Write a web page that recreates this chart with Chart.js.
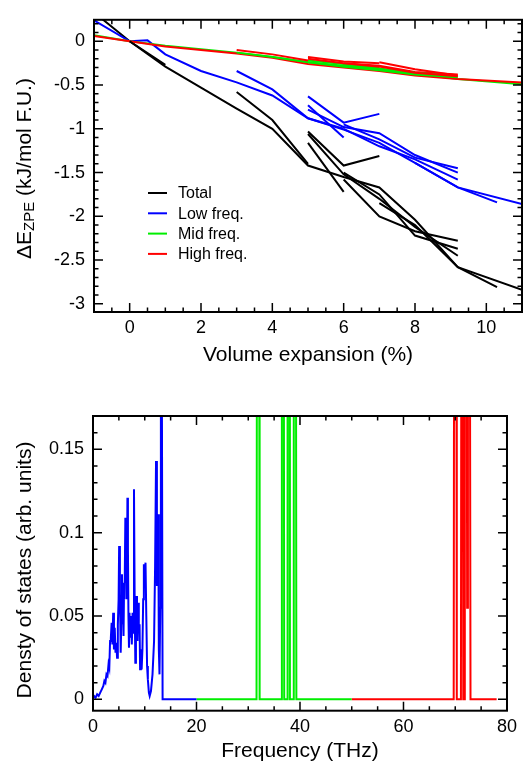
<!DOCTYPE html>
<html>
<head>
<meta charset="utf-8">
<script src="https://cdn.jsdelivr.net/npm/chart.js@4.4.0/dist/chart.umd.min.js"></script>
<style>
  html, body { margin: 0; padding: 0; background: #fff; }
  #wrap { position: relative; width: 523px; height: 764px; }
  canvas { position: absolute; left: 0; }
</style>
</head>
<body>
<div id="wrap">
  <canvas id="zpe" width="523" height="375" style="top:0"></canvas>
  <canvas id="dos" width="523" height="384" style="top:380px"></canvas>
</div>
<script>
// ---- top panel: ZPE change vs volume expansion (one array per curve piece) ----
const seriesNames = ["Total", "Low freq.", "Mid freq.", "High freq."];
const seriesColors = ["#000000", "#0000ff", "#00ee00", "#ff0000"];

const totalX = [
  [-1, 0, 1],
  [0, 1, 2, 3, 4, 5, 6, 7, 8, 9.2, 11],
  [3, 4, 5],
  [5, 6, 7],
  [5, 6],
  [5, 6, 7, 8, 9.2],
  [6, 7, 8, 9.2],
  [6, 7, 8, 9.2],
  [7, 8, 9.2, 10.3]
];
const totalY = [
  [0.33, 0, -0.27],
  [0, -0.29, -0.53, -0.77, -1.0, -1.42, -1.55, -1.67, -2.04, -2.58, -2.84],
  [-0.58, -0.9, -1.4],
  [-1.03, -1.42, -1.31],
  [-1.16, -1.72],
  [-1.06, -1.52, -1.8, -2.12, -2.45],
  [-1.58, -2.0, -2.17, -2.28],
  [-1.5, -1.75, -2.22, -2.37],
  [-1.85, -2.1, -2.58, -2.81]
];

const lowX = [
  [-1, 0, 0.5, 1, 2, 3, 4, 5, 6, 7, 8, 9.2, 11],
  [3, 4, 5, 6],
  [5, 6, 7],
  [5, 6],
  [5, 6, 7, 8, 9.2],
  [6, 7, 8, 9.2],
  [6, 7, 8, 9.2],
  [8, 9.2, 10.3]
];
const lowY = [
  [0.24, 0, 0.01, -0.15, -0.34, -0.47, -0.62, -0.88, -1.01, -1.16, -1.39, -1.67, -1.86],
  [-0.34, -0.55, -0.88, -1.0],
  [-0.63, -0.93, -0.83],
  [-0.73, -1.1],
  [-0.78, -0.98, -1.05, -1.3, -1.5],
  [-0.95, -1.12, -1.33, -1.45],
  [-1.0, -1.2, -1.35, -1.58],
  [-1.39, -1.67, -1.84]
];

const midX = [
  [-1, 0, 1, 2, 3, 4, 5, 6, 7, 8, 9.2, 11],
  [3, 4, 5],
  [5, 6, 7],
  [5, 6, 7, 8, 9.2],
  [6, 7, 8, 9.2]
];
const midY = [
  [0.07, 0, -0.05, -0.09, -0.13, -0.18, -0.24, -0.28, -0.32, -0.37, -0.43, -0.49],
  [-0.13, -0.18, -0.24],
  [-0.22, -0.26, -0.3],
  [-0.24, -0.29, -0.33, -0.38, -0.41],
  [-0.27, -0.31, -0.36, -0.4]
];

const highX = [
  [-1, 0, 1, 2, 3, 4, 5, 6, 7, 8, 9.2, 11],
  [3, 4, 5],
  [5, 6, 7],
  [5, 6, 7, 8, 9.2],
  [6, 7, 8, 9.2],
  [7, 8, 9.2]
];
const highY = [
  [0.06, 0, -0.06, -0.1, -0.14, -0.19, -0.26, -0.3, -0.34, -0.39, -0.43, -0.47],
  [-0.1, -0.15, -0.22],
  [-0.18, -0.23, -0.25],
  [-0.2, -0.25, -0.28, -0.35, -0.38],
  [-0.25, -0.29, -0.36, -0.4],
  [-0.24, -0.32, -0.39]
];

const zpeXTicks = [0, 2, 4, 6, 8, 10];
const zpeYTicks = [0, -0.5, -1, -1.5, -2, -2.5, -3];

// ---- bottom panel: phonon density of states ----
const dosLowX = [0, 0.2, 0.5, 0.8, 1.1, 1.4, 1.7, 2.0, 2.2, 2.4, 2.6, 2.8, 3.0, 3.15, 3.3, 3.45, 3.6, 3.75, 3.9,
  4.05, 4.2, 4.35, 4.5, 4.65, 4.8, 4.95, 5.05, 5.2, 5.35, 5.5, 5.6, 5.7, 5.8, 5.9, 6.0, 6.1, 6.25, 6.35,
  6.45, 6.55, 6.65, 6.75, 6.85, 6.95, 7.05, 7.2, 7.35, 7.5, 7.65, 7.8, 7.92, 8.05, 8.18, 8.3, 8.4, 8.5,
  8.6, 8.75, 8.85, 9.0, 9.1, 9.25, 9.4, 9.55, 9.7, 9.83, 10.0, 10.15, 10.3, 10.45, 10.6, 10.8, 10.95,
  11.2, 11.5, 11.8, 12.0, 12.18, 12.35, 12.5, 12.62, 12.72, 12.85, 13.0, 13.12, 13.3, 13.45, 20];
const dosLowY = [0, 0.002, 0.001, 0.003, 0.002, 0.004, 0.006, 0.008, 0.011, 0.01, 0.015, 0.014, 0.021, 0.019,
  0.035, 0.037, 0.046, 0.033, 0.052, 0.03, 0.043, 0.028, 0.034, 0.025, 0.045, 0.06, 0.092, 0.065, 0.028,
  0.05, 0.075, 0.045, 0.07, 0.038, 0.067, 0.06, 0.109, 0.07, 0.105, 0.06, 0.121, 0.09, 0.05, 0.031, 0.052,
  0.037, 0.05, 0.033, 0.052, 0.04, 0.126, 0.06, 0.022, 0.04, 0.062, 0.045, 0.035, 0.058, 0.04, 0.045,
  0.018, 0.03, 0.018, 0.03, 0.06, 0.081, 0.075, 0.082, 0.05, 0.02, 0.012, 0.004, 0.002, 0.005, 0.015,
  0.035, 0.08, 0.143, 0.068, 0.095, 0.111, 0.03, 0.015, 0.055, 0.2, 0.2, 0, 0];

const dosMidX = [20, 31.6, 31.7, 32.1, 32.2, 36.4, 36.5, 36.85, 36.95, 37.5, 37.6, 37.95, 38.05, 38.7, 38.8,
  39.2, 39.3, 50];
const dosMidY = [0, 0, 0.3, 0.3, 0, 0, 0.3, 0.3, 0, 0, 0.3, 0.3, 0, 0, 0.3, 0.3, 0, 0];

const dosHighX = [50, 69.7, 69.8, 70.2, 70.3, 71.1, 71.2, 71.45, 71.55, 71.75, 71.85, 72.2, 72.3, 72.45, 72.8,
  72.95, 78];
const dosHighY = [0, 0, 0.3, 0.3, 0, 0, 0.3, 0.3, 0, 0, 0.3, 0.3, 0.055, 0.3, 0.3, 0, 0];

const dosXTicks = [0, 20, 40, 60, 80];
const dosYTicks = [0, 0.05, 0.1, 0.15];

// ---------------------------------------------------------------
const fontFamily = "'Liberation Sans', Arial, Helvetica, sans-serif";
Chart.defaults.font.family = fontFamily;
Chart.defaults.color = "#000";

const tickFont = { size: 18 };
const titleFont = { size: 21 };

function toPoints(xs, ys) {
  return xs.map((x, i) => ({ x: x, y: ys[i] }));
}

// frame plus inward major/minor ticks on all four sides
const frameTicks = {
  id: "frameTicks",
  afterDatasetsDraw(chart, args, opts) {
    const { ctx, chartArea: a } = chart;
    const xs = chart.scales.x;
    const ys = chart.scales.y;
    const steps = (min, max, step) => {
      const out = [];
      for (let k = Math.ceil(min / step - 1e-9); k * step <= max + 1e-9; k++) out.push(k * step);
      return out;
    };
    const isMajor = (list, v) => list.some((m) => Math.abs(m - v) < 1e-6);

    ctx.save();
    ctx.strokeStyle = "#000";
    ctx.lineWidth = 1.5;
    ctx.beginPath();
    steps(xs.min, xs.max, opts.xMinor).forEach((v) => {
      const len = isMajor(opts.xMajor, v) ? 9 : 4.5;
      const px = xs.getPixelForValue(v);
      ctx.moveTo(px, a.bottom);
      ctx.lineTo(px, a.bottom - len);
      ctx.moveTo(px, a.top);
      ctx.lineTo(px, a.top + len);
    });
    steps(ys.min, ys.max, opts.yMinor).forEach((v) => {
      const len = isMajor(opts.yMajor, v) ? 9 : 4.5;
      const py = ys.getPixelForValue(v);
      ctx.moveTo(a.left, py);
      ctx.lineTo(a.left + len, py);
      ctx.moveTo(a.right, py);
      ctx.lineTo(a.right - len, py);
    });
    ctx.stroke();
    ctx.lineWidth = 2;
    ctx.strokeRect(a.left, a.top, a.right - a.left, a.bottom - a.top);
    ctx.restore();
  }
};

// legend drawn inside the plot, one entry per colour group
const insideLegend = {
  id: "insideLegend",
  afterDraw(chart) {
    const ctx = chart.ctx;
    ctx.save();
    ctx.font = "16px " + fontFamily;
    ctx.textBaseline = "middle";
    ctx.textAlign = "left";
    seriesNames.forEach((name, i) => {
      const y = 193 + i * 20.3;
      ctx.strokeStyle = seriesColors[i];
      ctx.lineWidth = 2;
      ctx.beginPath();
      ctx.moveTo(148, y);
      ctx.lineTo(167, y);
      ctx.stroke();
      ctx.fillStyle = "#000";
      ctx.fillText(name, 178, y + 1);
    });
    ctx.restore();
  }
};

// rotated y title, allows a subscript piece
const yTitle = {
  id: "yTitle",
  afterDraw(chart, args, opts) {
    const ctx = chart.ctx;
    const parts = opts.parts;
    ctx.save();
    ctx.fillStyle = "#000";
    ctx.textBaseline = "middle";
    ctx.textAlign = "left";
    let total = 0;
    const widths = parts.map((p) => {
      ctx.font = p.size + "px " + fontFamily;
      const w = ctx.measureText(p.t).width;
      total += w;
      return w;
    });
    ctx.translate(opts.x, opts.y);
    ctx.rotate(-Math.PI / 2);
    let x = -total / 2;
    parts.forEach((p, i) => {
      ctx.font = p.size + "px " + fontFamily;
      ctx.fillText(p.t, x, p.dy || 0);
      x += widths[i];
    });
    ctx.restore();
  }
};

// build datasets in plotting sequence, later pieces on top
const groups = [
  { xs: totalX, ys: totalY },
  { xs: lowX, ys: lowY },
  { xs: midX, ys: midY },
  { xs: highX, ys: highY }
];
const zpeDatasets = [];
const maxPieces = Math.max(...groups.map((g) => g.xs.length));
for (let k = 0; k < maxPieces; k++) {
  groups.forEach((g, gi) => {
    if (k < g.xs.length) {
      zpeDatasets.push({
        label: seriesNames[gi],
        data: toPoints(g.xs[k], g.ys[k]),
        borderColor: seriesColors[gi],
        borderWidth: 2,
        pointRadius: 0,
        tension: 0,
        order: -zpeDatasets.length
      });
    }
  });
}

new Chart(document.getElementById("zpe").getContext("2d"), {
  type: "line",
  data: { datasets: zpeDatasets },
  options: {
    responsive: false,
    animation: false,
    layout: { padding: { top: 14, right: 1, left: 0, bottom: 0 } },
    plugins: {
      legend: { display: false },
      tooltip: { enabled: false },
      frameTicks: { xMajor: zpeXTicks, xMinor: 0.5, yMajor: zpeYTicks, yMinor: 0.1 },
      yTitle: {
        x: 25,
        y: 168.5,
        parts: [
          { t: "\u0394E", size: 21 },
          { t: "ZPE", size: 15, dy: 5 },
          { t: " (kJ/mol F.U.)", size: 21 }
        ]
      }
    },
    scales: {
      x: {
        type: "linear",
        min: -1,
        max: 11,
        afterBuildTicks: (s) => { s.ticks = zpeXTicks.map((v) => ({ value: v })); },
        afterFit: (s) => { s.height = 63; },
        grid: { display: false, drawTicks: false },
        border: { display: false },
        ticks: { padding: 5, font: tickFont, color: "#000", maxRotation: 0, autoSkip: false, callback: (v) => String(v) },
        title: { display: true, text: "Volume expansion (%)", font: titleFont, color: "#000", padding: { top: 0, bottom: 7 } }
      },
      y: {
        type: "linear",
        min: -3.093,
        max: 0.245,
        afterBuildTicks: (s) => { s.ticks = zpeYTicks.map((v) => ({ value: v })); },
        afterFit: (s) => { s.width = 94; },
        grid: { display: false, drawTicks: false },
        border: { display: false },
        ticks: { padding: 9, font: tickFont, color: "#000", autoSkip: false, callback: (v) => String(v) }
      }
    }
  },
  plugins: [frameTicks, insideLegend, yTitle]
});

new Chart(document.getElementById("dos").getContext("2d"), {
  type: "line",
  data: {
    datasets: [
      { label: "Low", data: toPoints(dosLowX, dosLowY), borderColor: seriesColors[1], borderWidth: 2, pointRadius: 0, tension: 0 },
      { label: "Mid", data: toPoints(dosMidX, dosMidY), borderColor: seriesColors[2], borderWidth: 2, pointRadius: 0, tension: 0 },
      { label: "High", data: toPoints(dosHighX, dosHighY), borderColor: seriesColors[3], borderWidth: 2, pointRadius: 0, tension: 0 }
    ]
  },
  options: {
    responsive: false,
    animation: false,
    layout: { padding: { top: 36, right: 9.7, left: 0, bottom: 0 } },
    plugins: {
      legend: { display: false },
      tooltip: { enabled: false },
      frameTicks: { xMajor: dosXTicks, xMinor: 5, yMajor: dosYTicks, yMinor: 0.01 },
      // canvas starts 380px down the page, so 570 on the page is 190 here
      yTitle: { x: 25, y: 190, parts: [{ t: "Densty of states (arb. units)", size: 21 }] }
    },
    scales: {
      x: {
        type: "linear",
        min: 0,
        max: 80,
        afterBuildTicks: (s) => { s.ticks = dosXTicks.map((v) => ({ value: v })); },
        afterFit: (s) => { s.height = 53.3; },
        grid: { display: false, drawTicks: false },
        border: { display: false },
        ticks: { padding: 6, font: tickFont, color: "#000", maxRotation: 0, autoSkip: false, callback: (v) => String(v) },
        title: { display: true, text: "Frequency (THz)", font: titleFont, color: "#000", padding: { top: 0, bottom: 0 } }
      },
      y: {
        type: "linear",
        min: -0.0068,
        max: 0.17,
        afterBuildTicks: (s) => { s.ticks = dosYTicks.map((v) => ({ value: v })); },
        afterFit: (s) => { s.width = 93; },
        grid: { display: false, drawTicks: false },
        border: { display: false },
        ticks: { padding: 9, font: tickFont, color: "#000", autoSkip: false, callback: (v) => String(v) }
      }
    }
  },
  plugins: [frameTicks, yTitle]
});
</script>
</body>
</html>
